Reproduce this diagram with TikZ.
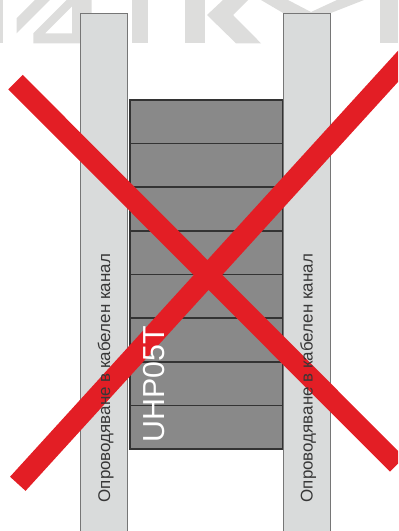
\documentclass[tikz,border=0pt]{standalone}
\usepackage{fontspec}
\setmainfont{Liberation Sans}
\definecolor{wm}{RGB}{221,221,220}
\definecolor{railfill}{RGB}{217,219,219}
\definecolor{railline}{RGB}{118,118,118}
\definecolor{boxfill}{RGB}{137,137,137}
\definecolor{boxline}{RGB}{51,51,51}
\definecolor{xred}{RGB}{227,30,37}
\definecolor{txt}{RGB}{55,55,55}
\tikzset{
  wmark/.style={fill=wm},
  railbox/.style={fill=railfill},
  railedge/.style={draw=railline, line width=0.9bp},
  rackbox/.style={fill=boxfill, draw=boxline, line width=1.3bp},
  rackline/.style={draw=boxline, line width=1.6bp},
  crossbar/.style={draw=xred, line cap=butt},
  railtext/.style={rotate=90, anchor=base west, inner sep=0pt, text=txt, font=\fontsize{17}{20}\selectfont},
  labeltext/.style={rotate=90, anchor=base west, inner sep=0pt, text=white, font=\fontsize{30.5}{34}\selectfont}
}
\begin{document}
\begin{tikzpicture}[x=1bp, y=-1bp]
\useasboundingbox (0,0) rectangle (398,531);
\clip (0,0) rectangle (398,531);
% watermark logo
\fill[wmark] (0,0) rectangle (3.3,43.3);
\fill[wmark] (16.7,18.3) -- (35,0) -- (50,0) -- (16.7,33.3) -- cycle;
\fill[wmark, even odd rule] (33.3,43.3) -- (33.3,33.3) -- (66.7,0) -- (91.7,0) -- (91.7,43.3) -- cycle
   (45,33.3) -- (72,33.3) -- (72,6.3) -- cycle;
\fill[wmark] (131.7,0) rectangle (148.3,43.3);
\fill[wmark] (185,0) rectangle (205,43.3);
\fill[wmark] (207,15) -- (223,0) -- (248,0) -- (233,15) -- (261,43.3) -- (236,43.3) -- cycle;
\fill[wmark] (261,0) -- (288,0) -- (311,12) -- (337,0) -- (364,0) -- (313,20) -- (295,20) -- cycle;
\fill[wmark] (379.7,0) rectangle (398,43.3);
% rails
\fill[railbox] (80,13.3) rectangle (127.7,535);
\draw[railedge] (80,535) -- (80,13.3) -- (127.7,13.3) -- (127.7,535);
\fill[railbox] (283,13.3) rectangle (330.5,535);
\draw[railedge] (283,535) -- (283,13.3) -- (330.5,13.3) -- (330.5,535);
% rack box
\filldraw[rackbox] (130,100) rectangle (282.3,449);
\foreach \k in {1,...,7} {
  \draw[rackline] (130,{100+\k*43.625}) -- (282.3,{100+\k*43.625});
}
% red cross
\draw[crossbar, line width=20.4bp] (15.5,82.1) -- (397.2,464.5);
\draw[crossbar, line width=21bp] (17.8,483.8) -- (420,42.2);
% texts
\node[railtext] (lefttext) at (110,502.5) {Опроводяване в кабелен канал};
\node[railtext] (righttext) at (312.6,502.5) {Опроводяване в кабелен канал};
\node[labeltext] (model) at (164.3,442.4) {UHP05T};
\end{tikzpicture}
\end{document}
